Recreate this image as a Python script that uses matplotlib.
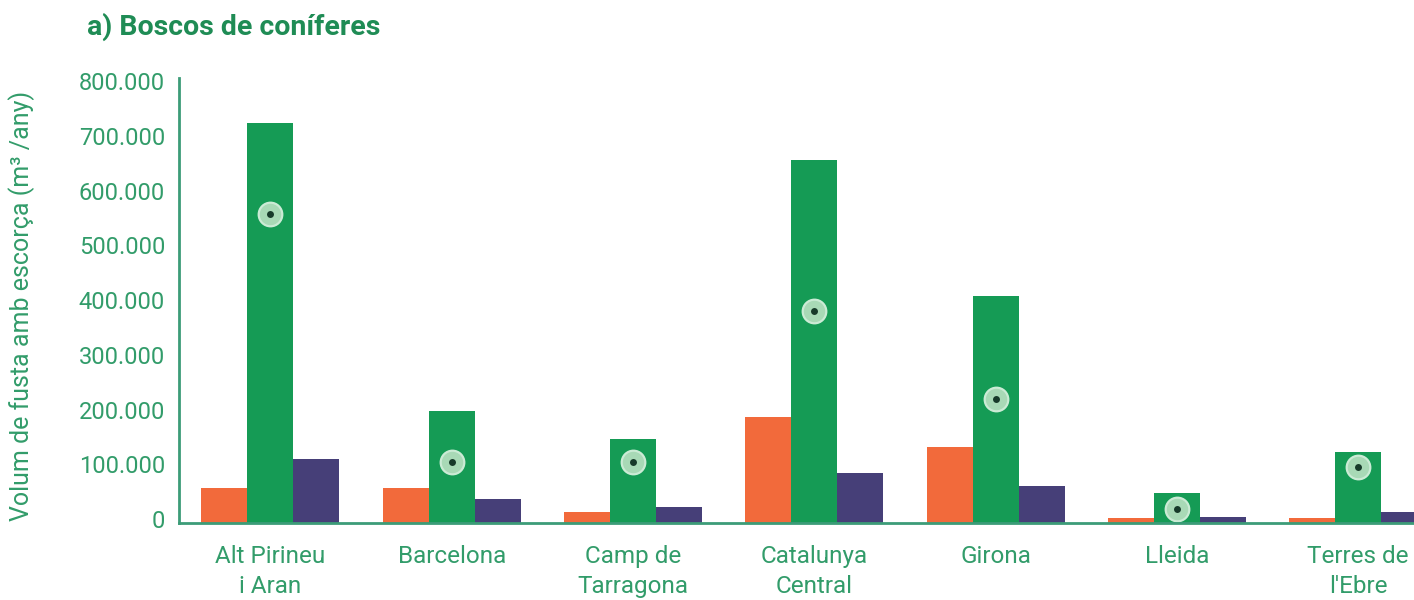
import matplotlib
matplotlib.use("Agg")
import matplotlib.pyplot as plt
from matplotlib.transforms import ScaledTranslation
import numpy as np

# Regions (x-axis categories)
regions = ["Alt Pirineu\ni Aran", "Barcelona", "Camp de\nTarragona", "Catalunya\nCentral",
           "Girona", "Lleida", "Terres de\nl'Ebre"]

# Annual volume of wood with bark (m3/any), three series per region
serie_orange = [64000, 64000, 20000, 193000, 138000, 8600, 8600]
serie_green = [731000, 205000, 153000, 663000, 415000, 54000, 129000]
serie_navy = [117000, 43000, 30000, 91000, 68000, 11500, 21000]
# Marker value drawn on top of each green bar
marker_values = [564000, 112000, 112000, 387000, 226000, 26000, 103000]

y_ticks = [0, 100000, 200000, 300000, 400000, 500000, 600000, 700000, 800000]
y_tick_labels = ["0", "100.000", "200.000", "300.000", "400.000", "500.000",
                 "600.000", "700.000", "800.000"]

ORANGE = "#F26A3B"
GREEN = "#159B55"
NAVY = "#463F78"
TEXT = "#329C6A"
TITLE = "#1F8C55"
AXIS = "#3C9C78"

plt.rcParams["font.family"] = ["Roboto", "DejaVu Sans"]

fig = plt.figure(figsize=(14.14, 6.0), dpi=100)
ax = fig.add_axes([0.1266, 0.1283, 0.8734, 0.7417])

x = np.arange(len(regions))
w = 0.2537
ax.bar(x - w, serie_orange, width=w, color=ORANGE, linewidth=0, zorder=2)
ax.bar(x, serie_green, width=w, color=GREEN, linewidth=0, zorder=2)
ax.bar(x + w, serie_navy, width=w, color=NAVY, linewidth=0, zorder=2)

ax.plot(x, marker_values, linestyle="none", marker="o", markersize=17,
        markerfacecolor="#A8D9B6", markeredgecolor="#CBEBD5", markeredgewidth=1.6, zorder=3)
ax.plot(x, marker_values, linestyle="none", marker="o", markersize=5,
        markerfacecolor="#173A2A", markeredgewidth=0, zorder=4)

ax.set_xlim(-0.504, 6.308)
ax.set_ylim(0, 812800)

ax.set_yticks(y_ticks)
ax.set_yticklabels(y_tick_labels)
ax.set_xticks(x)
ax.set_xticklabels(regions, linespacing=1.38)

ax.tick_params(axis="y", length=0, pad=10, labelsize=17, labelcolor=TEXT)
ax.tick_params(axis="x", length=0, pad=16, labelsize=17.5, labelcolor=TEXT)

# lift the value labels slightly above their gridline position
shift = ScaledTranslation(0, 4 / 100, fig.dpi_scale_trans)
for lab in ax.get_yticklabels():
    lab.set_transform(lab.get_transform() + shift)

for side in ["top", "right"]:
    ax.spines[side].set_visible(False)
for side in ["left", "bottom"]:
    ax.spines[side].set_color(AXIS)
    ax.spines[side].set_linewidth(2)
    ax.spines[side].set_zorder(5)

fig.text(0.0156, 0.49, "Volum de fusta amb escorça (m³ /any)", rotation=90,
         ha="center", va="center", fontsize=18, color=TEXT)
fig.text(0.0615, 0.955, "a) Boscos de coníferes", ha="left", va="center",
         fontsize=20.5, fontweight="bold", color=TITLE)

fig.savefig("out.png", dpi=100, facecolor="white")
